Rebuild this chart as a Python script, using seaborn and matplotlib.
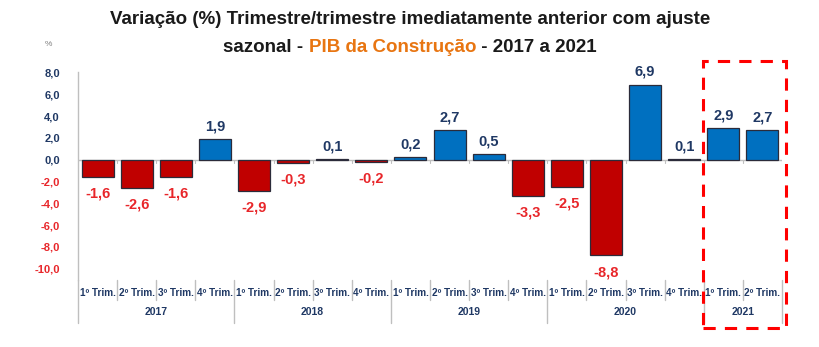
import numpy as np
import pandas as pd
import matplotlib
matplotlib.use("Agg")
import matplotlib.pyplot as plt
import seaborn as sns
from matplotlib.patches import Rectangle
from matplotlib.offsetbox import TextArea, HPacker, AnnotationBbox

# ---- data ----
anos = ["2017", "2018", "2019", "2020", "2021"]
trimestres_por_ano = [4, 4, 4, 4, 2]
trim_labels = ["1º Trim.", "2º Trim.", "3º Trim.", "4º Trim."]
valores = [-1.6, -2.6, -1.6, 1.9, -2.9, -0.3, 0.1, -0.2, 0.2, 2.7, 0.5, -3.3,
           -2.5, -8.8, 6.9, 0.1, 2.9, 2.7]
y_ticks = [8, 6, 4, 2, 0, -2, -4, -6, -8, -10]

# ---- style ----
sns.set_theme(style="white")
FONT = ["Liberation Sans Narrow", "Liberation Sans", "DejaVu Sans"]
plt.rcParams["font.family"] = FONT

RED = "#C00000"
BLUE = "#0070C0"
NAVY = "#1F3864"
RED_TXT = "#E8262A"
ORANGE = "#E87511"
GRAY = "#BFBFBF"

periodos, quarters, year_of = [], [], []
for a, n in zip(anos, trimestres_por_ano):
    for q in range(n):
        periodos.append(f"{a} {trim_labels[q]}")
        quarters.append(trim_labels[q])
        year_of.append(a)
df = pd.DataFrame({"periodo": periodos, "valor": valores,
                   "sinal": ["pos" if v >= 0 else "neg" for v in valores]})

fig = plt.figure(figsize=(8.2, 3.47), dpi=100)
ax = fig.add_axes([78 / 820, 1 - 280 / 347, (782 - 78) / 820, (280 - 72) / 347])

sns.barplot(data=df, x="periodo", y="valor", hue="sinal",
            palette={"pos": BLUE, "neg": RED}, dodge=False, width=0.82,
            saturation=1, order=periodos, legend=False, ax=ax, linewidth=0.9,
            edgecolor="#2b2b3a")

ax.set_xlim(-0.5, len(valores) - 0.5)
ax.set_ylim(-11.05, 8.05)
ax.axhline(0, color=GRAY, lw=1.0, zorder=0.5)

for s in ["top", "right", "bottom"]:
    ax.spines[s].set_visible(False)
ax.spines["left"].set_color(GRAY)
ax.spines["left"].set_linewidth(1.0)

# y ticks
ax.set_yticks(y_ticks)
ax.set_yticklabels([f"{v:.1f}".replace(".", ",") for v in y_ticks],
                   fontsize=8, fontweight="bold")
for lab, v in zip(ax.get_yticklabels(), y_ticks):
    lab.set_color(NAVY if v >= 0 else RED_TXT)
ax.tick_params(axis="y", length=0, pad=13)

# x ticks
ax.set_xticks(range(len(valores)))
ax.set_xticklabels(quarters, fontsize=7.2, fontweight="bold", color=NAVY)
ax.tick_params(axis="x", length=0, pad=6)
ax.set_xlabel("")
ax.set_ylabel("")

# separators below axis
bounds = np.cumsum([0] + trimestres_por_ano) - 0.5
tr = ax.get_xaxis_transform()
for k in range(len(valores) + 1):
    xb = k - 0.5
    long = np.any(np.isclose(bounds, xb))
    ax.plot([xb, xb], [0, -0.205 if long else -0.095], color=GRAY, lw=1.0,
            transform=tr, clip_on=False)
    if k > 0:
        ax.plot([xb, xb], [0, -0.3], color=GRAY, lw=0.8, zorder=0.5)

# year labels
for i, a in enumerate(anos):
    xc = (bounds[i] + bounds[i + 1]) / 2
    ax.text(xc, -0.155, a, transform=tr, ha="center", va="center",
            fontsize=7.5, fontweight="bold", color=NAVY)

# value labels
for i, v in enumerate(valores):
    txt = f"{v:.1f}".replace(".", ",")
    if v >= 0:
        ax.annotate(txt, (i, v), xytext=(0, 4), textcoords="offset points",
                    ha="center", va="bottom", fontsize=10.5, fontweight="bold",
                    color=NAVY)
    else:
        ax.annotate(txt, (i, v), xytext=(0, -7), textcoords="offset points",
                    ha="center", va="top", fontsize=10.5, fontweight="bold",
                    color=RED_TXT)

# dashed highlight box
fig.patches.append(Rectangle((703 / 820, 1 - 328 / 347), 83 / 820, 267 / 347,
                             transform=fig.transFigure, fill=False,
                             edgecolor="#FF0000", lw=2.2, linestyle=(0, (4, 3))))

# percent sign
fig.text(48 / 820, 1 - 45 / 347, "%", fontsize=6, color="#808080",
         ha="center", va="center")

# title
fig.text(0.5, 1 - 20 / 347,
         "Variação (%) Trimestre/trimestre imediatamente anterior com ajuste",
         ha="center", va="center", fontsize=13.5, fontweight="bold",
         color="#1a1a1a")
parts = [("sazonal - ", "#1a1a1a"), ("PIB da Construção", ORANGE),
         (" - 2017 a 2021", "#1a1a1a")]
boxes = [TextArea(t, textprops=dict(color=c, fontsize=13.5, fontweight="bold",
                                    family=FONT)) for t, c in parts]
hp = HPacker(children=boxes, align="baseline", pad=0, sep=0)
ab = AnnotationBbox(hp, (0.5, 1 - 47 / 347), xycoords="figure fraction",
                    frameon=False, box_alignment=(0.5, 0.5))
fig.add_artist(ab)

fig.savefig("out.png", dpi=100)
